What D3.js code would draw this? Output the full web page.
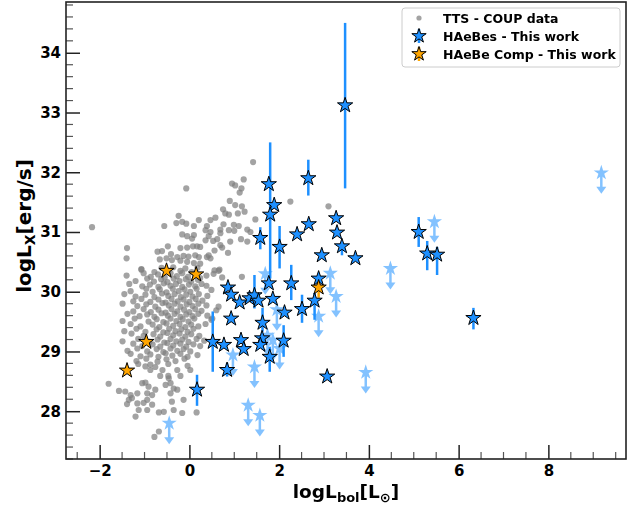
<!DOCTYPE html>
<html><head><meta charset="utf-8">
<script src="https://cdn.jsdelivr.net/npm/d3@7"></script>
<style>body{margin:0;background:#fff;} svg{display:block;font-family:"DejaVu Sans",sans-serif;}</style>
</head><body><svg id="c" width="644" height="509"></svg>
<script>
// ---------- DATA ----------
const ttsData = [
[1.42,32.17],[1.21,31.88],[0.95,31.81],[1.02,31.78],[1.16,31.73],[1.12,31.66],[-0.07,31.73],[2.25,31.51],[3.10,31.43],[0.90,31.52],[1.02,31.45],[1.17,31.43],[1.23,31.34],[1.08,31.31],[0.75,31.38],[0.80,31.31],[0.88,31.29],[-0.24,31.27],[-0.29,31.15],[-0.16,31.17],[-0.07,31.14],[0.21,31.20],[0.47,31.20],[0.58,31.24],[0.76,31.13],[0.99,31.12],[1.10,31.10],[1.29,31.04],[0.39,31.10],[0.36,31.03],[0.47,31.00],[0.10,31.10],[-0.56,31.10],[-2.17,31.08],[0.69,31.04],[0.88,31.03],[1.00,31.02],[-0.16,30.96],[-0.05,30.93],[0.06,30.89],[0.43,30.93],[0.69,30.98],[0.53,30.85],[0.62,30.88],[0.91,30.84],[1.15,30.88],[1.29,30.84],[1.47,31.21],[-1.39,30.73],[-1.40,30.56],[-0.48,30.76],[-0.20,30.73],[-0.05,30.74],[0.08,30.76],[0.17,30.76],[0.24,30.75],[0.69,30.78],[0.56,30.69],[0.86,30.65],[-0.71,30.67],[-0.61,30.68],[-0.41,30.63],[-0.27,30.58],[-0.13,30.60],[-0.02,30.59],[0.13,30.61],[0.21,30.58],[0.43,30.61],[0.47,30.56],[-0.66,30.54],[-0.51,30.56],[-0.39,30.53],[-0.20,30.52],[-0.05,30.50],[0.10,30.48],[0.24,30.47],[-1.07,30.37],[0.67,30.37],[1.36,31.00],[0.36,30.86],[0.10,30.95],[0.73,30.74],[0.39,30.58],[1.17,30.25],[0.65,30.35],[0.73,30.24],[0.54,30.30],
[-1.07,30.38],[-0.78,30.33],[-0.62,30.40],[-0.47,30.34],[-0.36,30.41],[-0.20,30.35],[-0.09,30.39],[0.05,30.33],[0.18,30.40],[0.56,30.36],
[-1.40,30.27],[-1.02,30.31],[-0.86,30.25],[-0.70,30.29],[-0.55,30.24],[-0.42,30.31],[-0.28,30.26],[-0.16,30.31],[-0.03,30.25],[0.12,30.29],[0.24,30.23],[0.38,30.27],
[-1.20,30.18],[-0.94,30.22],[-0.79,30.17],[-0.63,30.21],[-0.49,30.16],[-0.35,30.22],[-0.22,30.18],[-0.08,30.21],[0.04,30.17],[0.19,30.20],
[-1.34,30.13],[-1.05,30.09],[-0.88,30.12],[-0.69,30.08],[-0.57,30.14],[-0.42,30.10],[-0.30,30.13],[-0.16,30.08],[-0.01,30.12],[0.13,30.09],[0.27,30.13],[0.38,30.10],
[-1.31,30.01],[-0.96,30.05],[-0.82,30.00],[-0.66,30.04],[-0.51,29.99],[-0.37,30.05],[-0.24,30.01],[-0.11,30.04],[0.02,30.00],[0.16,30.05],[0.49,30.03],
[-1.45,29.96],[-1.20,29.92],[-0.98,29.95],[-0.78,29.91],[-0.61,29.97],[-0.47,29.93],[-0.33,29.96],[-0.19,29.91],[-0.07,29.95],[0.07,29.92],[0.21,29.96],[0.40,29.93],
[-1.25,29.84],[-1.07,29.88],[-0.87,29.83],[-0.69,29.87],[-0.53,29.82],[-0.40,29.88],[-0.26,29.84],[-0.13,29.87],[0.00,29.83],[0.14,29.88],[0.29,29.85],
[-1.49,29.80],[-1.16,29.76],[-0.96,29.79],[-0.76,29.75],[-0.60,29.81],[-0.46,29.77],[-0.33,29.80],[-0.20,29.75],[-0.06,29.79],[0.07,29.76],[0.20,29.80],[0.38,29.77],[0.65,29.75],
[-1.25,29.67],[-1.02,29.71],[-0.86,29.66],[-0.69,29.70],[-0.53,29.65],[-0.40,29.71],[-0.27,29.67],[-0.12,29.70],[0.00,29.66],[0.13,29.71],[0.27,29.68],[0.60,29.69],
[-1.38,29.63],[-1.11,29.59],[-0.94,29.62],[-0.78,29.58],[-0.62,29.64],[-0.48,29.60],[-0.33,29.63],[-0.20,29.58],[-0.07,29.62],[0.07,29.59],[0.20,29.63],[0.40,29.60],[0.51,29.55],
[-1.49,29.51],[-1.22,29.55],[-0.91,29.50],[-0.73,29.54],[-0.58,29.49],[-0.42,29.55],[-0.29,29.51],[-0.15,29.54],[-0.02,29.50],[0.11,29.55],[0.49,29.53],
[-1.31,29.46],[-1.09,29.42],[-0.82,29.45],[-0.67,29.41],[-0.51,29.47],[-0.36,29.43],[-0.22,29.46],[-0.09,29.41],[0.04,29.45],[0.20,29.42],[0.36,29.46],
[-1.45,29.34],[-1.18,29.38],[-0.98,29.33],[-0.73,29.37],[-0.58,29.32],[-0.45,29.38],[-0.31,29.34],[-0.18,29.37],[-0.04,29.33],[0.09,29.38],
[-1.29,29.30],[-1.02,29.26],[-0.80,29.29],[-0.65,29.25],[-0.49,29.31],[-0.36,29.27],[-0.22,29.30],[-0.09,29.25],[0.04,29.29],[0.22,29.26],
[-1.49,29.17],[-1.14,29.21],[-0.89,29.16],[-0.71,29.20],[-0.56,29.15],[-0.42,29.21],[-0.29,29.17],[-0.16,29.20],[-0.02,29.16],[0.16,29.21],[0.33,29.18],
[-1.25,29.13],[-1.05,29.09],[-0.82,29.12],[-0.65,29.08],[-0.49,29.14],[-0.36,29.10],[-0.20,29.13],[-0.07,29.08],[0.09,29.12],[0.24,29.09],
[-1.38,29.01],[-1.16,29.05],[-0.94,29.00],[-0.73,29.04],[-0.58,28.99],[-0.42,29.05],[-0.27,29.01],[-0.13,29.04],[0.02,29.00],
[-1.31,28.96],[-1.09,28.92],[-0.87,28.95],[-0.69,28.91],[-0.53,28.97],[-0.38,28.93],[-0.20,28.96],[-0.04,28.91],[0.18,28.94],
[-1.18,28.84],[-0.96,28.88],[-0.71,28.83],[-0.51,28.87],[-0.31,28.84],[-0.11,28.88],
[-1.14,28.79],[-0.98,28.75],[-0.87,28.78],[-0.76,28.74],[-0.47,28.79],[-0.04,28.76],
[-0.87,28.69],[-0.60,28.69],[-0.27,28.69],[0.02,28.69],
[-0.65,28.59],[-0.47,28.59],[-0.20,28.59],
[-1.80,28.46],[-1.57,28.34],[-1.43,28.33],[-1.31,28.27],[-1.35,28.19],[-1.39,28.12],[-1.16,28.30],[-1.05,28.47],[-0.98,28.48],[-0.91,28.41],[-0.94,28.30],[-0.83,28.27],[-0.94,28.19],[-0.76,28.36],[-0.53,28.44],[-0.42,28.47],[-0.35,28.38],[-0.42,28.30],[-0.27,28.36],[-0.39,28.16],[-0.13,28.19],[-0.46,28.55],[-1.16,28.13],[-0.83,28.11],[-1.13,28.02],[-0.94,28.02],[-1.20,27.91],[-0.68,27.98],[-0.57,27.99],[-0.35,28.02],[-0.16,27.97],[0.16,27.98],[-0.68,27.66],[-0.78,27.57],[-1.02,28.14],[-1.28,28.22]
];

// HAeBes - detections with error bars
const haebeX  = [3.47,2.65,1.77,1.89,1.80,1.58,2.01,2.40,2.66,3.27,3.29,3.40,2.95,3.70,5.11,5.30,5.52,6.33,3.07,0.86,0.93,1.12,1.34,1.45,1.54,1.77,1.86,2.27,2.12,2.51,2.79,2.88,0.93,1.63,0.52,0.77,1.15,1.21,1.62,1.58,1.79,2.10,0.84,0.17];
const haebeY  = [33.12,31.90,31.80,31.45,31.29,30.90,30.75,30.96,31.13,31.23,30.99,30.76,30.61,30.56,31.00,30.64,30.62,29.56,28.58,30.07,29.95,29.82,29.89,29.94,29.85,30.14,29.88,30.14,29.65,29.71,29.85,30.22,29.55,29.48,29.16,29.11,29.19,29.04,29.22,29.11,28.91,29.18,28.69,28.36];
const haebeLo = [31.73,31.61,31.80,31.45,30.22,30.71,30.39,30.96,31.13,31.23,30.99,30.61,30.61,30.56,30.75,30.36,30.28,29.37,28.58,30.07,29.95,29.82,29.89,29.72,29.85,30.14,29.88,29.86,29.65,29.48,29.53,30.22,29.55,29.33,28.66,29.11,29.19,29.04,29.22,29.11,28.66,28.91,28.58,28.09];
const haebeHi = [34.50,32.21,31.80,31.45,32.50,31.08,31.10,30.96,31.13,31.23,30.99,30.81,30.61,30.56,31.25,30.85,30.75,29.73,28.58,30.07,29.95,29.82,29.89,30.28,29.85,30.14,29.88,30.45,29.65,29.95,29.98,30.22,29.55,29.73,29.67,29.11,29.19,29.04,29.22,29.11,29.08,29.44,28.81,28.61];

// HAeBes - upper limits
const limitX = [9.18,5.46,4.48,3.14,3.27,3.93,2.88,1.69,1.95,0.97,1.45,1.31,1.57,-0.45,1.74,1.86,2.01];
const limitY = [31.99,31.17,30.39,30.31,29.92,28.65,29.59,30.30,29.70,28.94,28.74,28.10,27.93,27.80,29.27,29.19,29.05];

// HAeBe companions
const compX  = [-0.51,0.15,-0.96,-1.39,2.88];
const compY  = [30.35,30.29,29.16,28.68,30.07];
const compLo = [30.35,30.29,29.16,28.68,29.90];
const compHi = [30.35,30.29,29.16,28.68,30.22];

const xMajor = [-2,0,2,4,6,8];
const xTickLabels = ["\u22122","0","2","4","6","8"];
const yMajor = [28,29,30,31,32,33,34];
const yTickLabels = ["28","29","30","31","32","33","34"];
const legendLabels = ["TTS - COUP data","HAeBes - This work","HAeBe Comp - This work"];

// ---------- LAYOUT ----------
const svg = d3.select("#c");
const L = 66, R = 626, T = 2, B = 459;
const x = d3.scaleLinear().domain([-2.75, 9.73]).range([L, R]);
const y = d3.scaleLinear().domain([27.2, 34.85]).range([B, T]);
const blue = "#1e90ff", orange = "#ffa500";
const starPath = d3.symbol(d3.symbolStar, 72)();
const starPathLeg = d3.symbol(d3.symbolStar, 64)();

svg.append("defs").append("clipPath").attr("id","clip").append("rect")
  .attr("x",L).attr("y",T).attr("width",R-L).attr("height",B-T);
const plot = svg.append("g").attr("clip-path","url(#clip)");

// TTS gray points
plot.append("g").selectAll("circle").data(ttsData).join("circle")
  .attr("cx", d => x(d[0])).attr("cy", d => y(d[1])).attr("r", 3.1)
  .attr("fill", "#808080").attr("fill-opacity", 0.72);

// upper limits (light)
const lim = plot.append("g").attr("opacity", 0.55);
limitX.forEach((lx, i) => {
  const cx = x(lx), cy = y(limitY[i]);
  lim.append("line").attr("x1",cx).attr("x2",cx).attr("y1",cy).attr("y2",cy+15)
    .attr("stroke", blue).attr("stroke-width", 2.5);
  lim.append("path").attr("d", `M${cx-5},${cy+14}L${cx+5},${cy+14}L${cx},${cy+21}Z`).attr("fill", blue);
  lim.append("path").attr("d", starPath).attr("transform", `translate(${cx},${cy})`).attr("fill", blue);
});

// error bars
plot.append("g").selectAll("line").data(haebeX.map((v,i)=>i)).join("line")
  .attr("x1", i => x(haebeX[i])).attr("x2", i => x(haebeX[i]))
  .attr("y1", i => y(haebeLo[i])).attr("y2", i => y(haebeHi[i]))
  .attr("stroke", blue).attr("stroke-width", 2.5);
plot.append("g").selectAll("line").data(compX.map((v,i)=>i)).join("line")
  .attr("x1", i => x(compX[i])).attr("x2", i => x(compX[i]))
  .attr("y1", i => y(compLo[i])).attr("y2", i => y(compHi[i]))
  .attr("stroke", orange).attr("stroke-width", 2.5);

// stars
plot.append("g").selectAll("path").data(haebeX.map((v,i)=>i)).join("path")
  .attr("d", starPath).attr("transform", i => `translate(${x(haebeX[i])},${y(haebeY[i])})`)
  .attr("fill", blue).attr("stroke", "#000").attr("stroke-width", 1);
plot.append("g").selectAll("path").data(compX.map((v,i)=>i)).join("path")
  .attr("d", starPath).attr("transform", i => `translate(${x(compX[i])},${y(compY[i])})`)
  .attr("fill", orange).attr("stroke", "#000").attr("stroke-width", 1);

// ---------- AXES ----------
const axisCol = "#222";
const xAxis = svg.append("g").attr("transform", `translate(0,${B})`)
  .call(d3.axisBottom(x).tickValues(xMajor).tickFormat((d,i)=>xTickLabels[i]).tickSizeInner(-14).tickSizeOuter(0).tickPadding(6));
const yAxis = svg.append("g").attr("transform", `translate(${L},0)`)
  .call(d3.axisLeft(y).tickValues(yMajor).tickFormat((d,i)=>yTickLabels[i]).tickSizeInner(-14).tickSizeOuter(0).tickPadding(5));
[xAxis, yAxis].forEach(a => {
  a.select(".domain").remove();
  a.selectAll(".tick line").attr("stroke", axisCol).attr("stroke-width", 1.5);
  a.selectAll(".tick text").attr("fill", "#000").attr("font-size", 15).attr("font-weight", "bold")
    .attr("font-family", "DejaVu Sans");
});
const xMinor = d3.range(-2.5, 9.6, 0.5).filter(v => Math.abs(v/2 - Math.round(v/2)) > 1e-6);
svg.append("g").selectAll("line").data(xMinor).join("line")
  .attr("x1", d => x(d)).attr("x2", d => x(d)).attr("y1", B).attr("y2", B-7)
  .attr("stroke", "#555").attr("stroke-width", 1.2);
const yMinor = d3.range(27.2, 34.85, 0.2).filter(v => Math.abs(v - Math.round(v)) > 1e-6);
svg.append("g").selectAll("line").data(yMinor).join("line")
  .attr("x1", L).attr("x2", L+7).attr("y1", d => y(d)).attr("y2", d => y(d))
  .attr("stroke", "#555").attr("stroke-width", 1.2);

svg.append("rect").attr("x", L).attr("y", T).attr("width", R-L).attr("height", B-T)
  .attr("fill", "none").attr("stroke", axisCol).attr("stroke-width", 1.6);

// axis labels
const yl = svg.append("text").attr("transform", "translate(31,226) rotate(-90)")
  .attr("text-anchor", "middle").attr("font-size", 20).attr("font-weight", "bold").attr("fill","#000");
yl.append("tspan").text("logL");
yl.append("tspan").attr("font-size", 14).attr("dy", 4).text("X");
yl.append("tspan").attr("dy", -4).text("[erg/s]");

const xl = svg.append("text").attr("x", 346).attr("y", 498)
  .attr("text-anchor", "middle").attr("font-size", 18.5).attr("font-weight", "bold").attr("fill","#000");
xl.append("tspan").text("logL");
xl.append("tspan").attr("font-size", 13).attr("dy", 4).text("bol");
xl.append("tspan").attr("dy", -4).text("[L");
xl.append("tspan").attr("font-size", 13).attr("dy", 4).text("\u2299");
xl.append("tspan").attr("dy", -4).text("]");

// ---------- LEGEND ----------
const lg = svg.append("g");
lg.append("rect").attr("x", 402).attr("y", 8).attr("width", 218).attr("height", 59).attr("rx", 3)
  .attr("fill", "#fff").attr("fill-opacity", 0.8).attr("stroke", "#ccc").attr("stroke-width", 1);
const rowY = [18, 36, 54];
lg.append("circle").attr("cx", 419).attr("cy", rowY[0]).attr("r", 2.6).attr("fill", "#808080").attr("fill-opacity", 0.72);
lg.append("line").attr("x1",419).attr("x2",419).attr("y1",rowY[1]-7).attr("y2",rowY[1]+7).attr("stroke",blue).attr("stroke-width",2.5);
lg.append("path").attr("d", starPathLeg).attr("transform", `translate(419,${rowY[1]})`).attr("fill", blue).attr("stroke","#000");
lg.append("line").attr("x1",419).attr("x2",419).attr("y1",rowY[2]-7).attr("y2",rowY[2]+7).attr("stroke",orange).attr("stroke-width",2.5);
lg.append("path").attr("d", starPathLeg).attr("transform", `translate(419,${rowY[2]})`).attr("fill", orange).attr("stroke","#000");
legendLabels.forEach((t, i) => {
  lg.append("text").attr("x", 443).attr("y", rowY[i]).attr("dy", "0.36em")
    .attr("font-size", 12.5).attr("font-weight", "bold").attr("fill", "#000").text(t);
});
</script></body></html>
